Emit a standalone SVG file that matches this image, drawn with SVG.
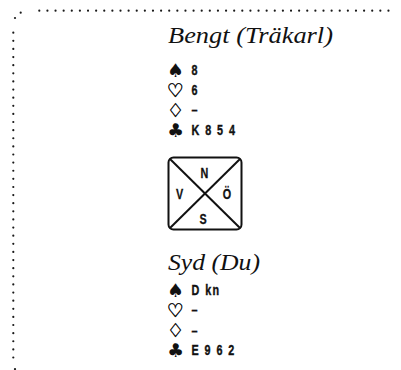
<svg xmlns="http://www.w3.org/2000/svg" width="401" height="370" viewBox="0 0 401 370">
<style>
.frame{stroke:#1a1a1a;stroke-width:2.2;stroke-linecap:round;stroke-dasharray:0 8.12;fill:none}
.name{font-family:'Liberation Serif','Times New Roman',serif;font-style:italic;font-size:23px;fill:#111}
.suit{font-family:'DejaVu Sans',sans-serif;font-size:19px;fill:#111}
.card{font-family:'Liberation Sans',Arial,sans-serif;font-weight:bold;font-size:15px;letter-spacing:2px;fill:#111;stroke:#111;stroke-width:0.4}
.dir{font-family:'Liberation Sans',Arial,sans-serif;font-weight:bold;font-size:15px;fill:#111;stroke:#111;stroke-width:0.3;text-anchor:middle}
</style>
<g id="frame">
<line class="frame" x1="39.3" y1="10.7" x2="389.5" y2="10.7"/>
<line class="frame" x1="13.3" y1="32.7" x2="13.3" y2="358"/>
<circle cx="20.7" cy="12.7" r="1.1" fill="#1a1a1a"/>
<circle cx="15" cy="18" r="1.1" fill="#1a1a1a"/>
<circle cx="15" cy="369" r="1.1" fill="#1a1a1a"/>
</g>
<g id="north">
<text class="name" x="168" y="43" textLength="165" lengthAdjust="spacingAndGlyphs">Bengt (Träkarl)</text>
<text class="suit" x="167" y="77">♠</text>
<text class="suit" x="167" y="97" stroke="#111" stroke-width="0.5">♡</text>
<text class="suit" x="167" y="117" stroke="#111" stroke-width="0.5">♢</text>
<text class="suit" x="167" y="137">♣</text>
<g transform="translate(191.5,0) scale(0.72,1)">
<text class="card" x="0" y="75.5">8</text>
<text class="card" x="0" y="95.5">6</text>
<text class="card" x="0" y="115.5">–</text>
<text class="card" x="0" y="135.5">K 8 5 4</text>
</g>
</g>
<g id="compass">
<rect x="168.5" y="157.5" width="73" height="72" rx="5" fill="none" stroke="#111" stroke-width="2"/>
<line x1="170" y1="159" x2="240" y2="228" stroke="#111" stroke-width="2"/>
<line x1="240" y1="159" x2="170" y2="228" stroke="#111" stroke-width="2"/>
<text class="dir" transform="translate(204.5,177.5) scale(0.72,1)">N</text>
<text class="dir" transform="translate(179.5,198.5) scale(0.72,1)">V</text>
<text class="dir" transform="translate(227,198.5) scale(0.72,1)">Ö</text>
<text class="dir" transform="translate(203,223.5) scale(0.72,1)">S</text>
</g>
<g id="south">
<text class="name" x="168" y="269.5" textLength="92" lengthAdjust="spacingAndGlyphs">Syd (Du)</text>
<text class="suit" x="167" y="297">♠</text>
<text class="suit" x="167" y="317" stroke="#111" stroke-width="0.5">♡</text>
<text class="suit" x="167" y="337" stroke="#111" stroke-width="0.5">♢</text>
<text class="suit" x="167" y="357">♣</text>
<g transform="translate(191.5,0) scale(0.72,1)">
<text class="card" x="0" y="295.5">D kn</text>
<text class="card" x="0" y="315.5">–</text>
<text class="card" x="0" y="335.5">–</text>
<text class="card" x="0" y="355.5">E 9 6 2</text>
</g>
</g>
</svg>
